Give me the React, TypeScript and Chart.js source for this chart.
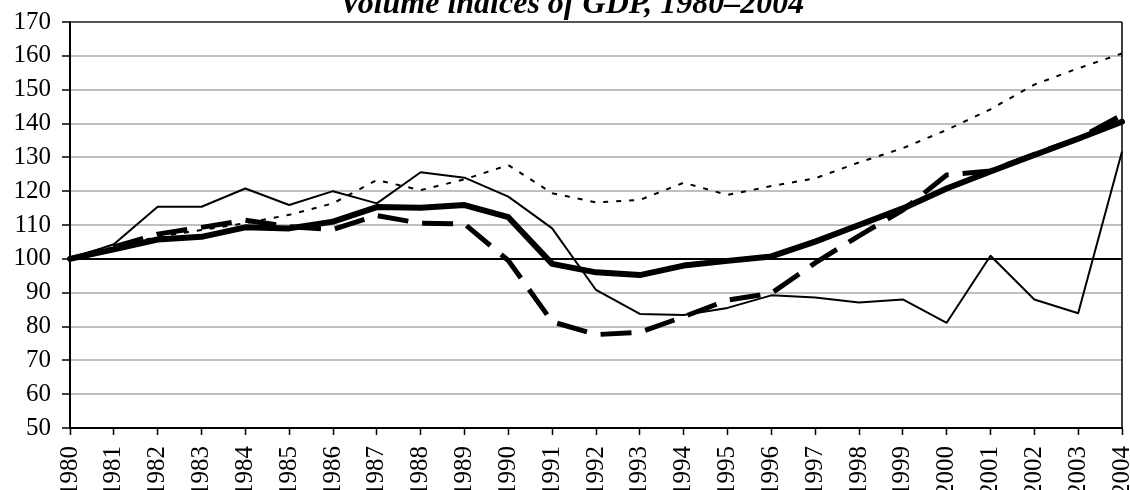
import React, { useEffect, useRef } from "react";
import { Chart, registerables } from "chart.js";

Chart.register(...registerables);

const TITLE = "Volume indices of GDP, 1980–2004";

const years = [
  "1980", "1981", "1982", "1983", "1984", "1985", "1986", "1987", "1988", "1989",
  "1990", "1991", "1992", "1993", "1994", "1995", "1996", "1997", "1998", "1999",
  "2000", "2001", "2002", "2003", "2004",
];

// thick solid line
const seriesThick = [
  100, 102.8, 105.7, 106.5, 109.3, 109.0, 111.0, 115.3, 115.1, 115.9,
  112.3, 98.5, 96.0, 95.2, 98.0, 99.4, 100.7, 105.1, 110.0, 114.9,
  120.8, 125.8, 130.7, 135.5, 140.5,
];

// thick dashed line
const seriesDashed = [
  100, 103.5, 107.3, 109.3, 111.4, 109.5, 108.7, 112.8, 110.5, 110.3,
  99.5, 81.4, 77.6, 78.3, 82.9, 87.8, 89.8, 98.8, 106.8, 114.4,
  124.8, 126.0, 130.9, 135.5, 142.5,
];

// thin dotted line
const seriesDotted = [
  100, 103.5, 106.5, 108.5, 110.5, 113.0, 116.4, 123.3, 120.3, 123.5,
  127.7, 119.4, 116.7, 117.4, 122.5, 118.9, 121.5, 123.8, 128.5, 132.7,
  138.1, 144.2, 151.5, 156.3, 160.7,
];

// thin solid line
const seriesThin = [
  100, 104.3, 115.4, 115.4, 120.8, 115.9, 120.0, 116.4, 125.6, 124.0,
  118.4, 109.0, 90.8, 83.7, 83.4, 85.5, 89.2, 88.6, 87.1, 88.0,
  81.1, 100.9, 88.0, 83.9, 131.7,
];

const yMin = 50;
const yMax = 170;
const yStep = 10;
const referenceValue = 100;

const FONT_FAMILY = '"Liberation Serif", "Times New Roman", serif';

export default function App() {
  const canvasRef = useRef<HTMLCanvasElement | null>(null);

  useEffect(() => {
    document.body.style.margin = "0";
    const canvas = canvasRef.current;
    if (!canvas) return;

    const titlePlugin = {
      id: "titleText",
      afterDraw(chart: any) {
        const ctx = chart.ctx;
        ctx.save();
        ctx.font = `bold italic 32px ${FONT_FAMILY}`;
        ctx.textAlign = "center";
        ctx.textBaseline = "alphabetic";
        ctx.fillStyle = "#000";
        ctx.fillText(TITLE, 572, 13);
        ctx.restore();
      },
    };

    const framePlugin = {
      id: "frame",
      afterDatasetsDraw(chart: any) {
        const { ctx, chartArea } = chart;
        ctx.save();
        ctx.strokeStyle = "#333";
        ctx.lineWidth = 1.5;
        ctx.beginPath();
        ctx.moveTo(chartArea.left, chartArea.top);
        ctx.lineTo(chartArea.right, chartArea.top);
        ctx.stroke();
        ctx.strokeStyle = "#000";
        ctx.beginPath();
        ctx.moveTo(chartArea.right, chartArea.top);
        ctx.lineTo(chartArea.right, chartArea.bottom);
        ctx.stroke();
        ctx.restore();
      },
    };

    const chart = new Chart(canvas, {
      type: "line",
      data: {
        labels: years,
        datasets: [
          {
            label: "Thin",
            data: seriesThin,
            borderColor: "#000",
            borderWidth: 2,
            pointRadius: 0,
            tension: 0,
            borderJoinStyle: "round",
          },
          {
            label: "Thick",
            data: seriesThick,
            borderColor: "#000",
            borderWidth: 6,
            pointRadius: 0,
            tension: 0,
            borderJoinStyle: "round",
            borderCapStyle: "round",
          },
          {
            label: "Dashed",
            data: seriesDashed,
            borderColor: "#000",
            borderWidth: 5,
            borderDash: [31, 14],
            pointRadius: 0,
            tension: 0,
            borderJoinStyle: "round",
          },
          {
            label: "Dotted",
            data: seriesDotted,
            borderColor: "#000",
            borderWidth: 2,
            borderDash: [5, 8],
            pointRadius: 0,
            tension: 0,
          },
        ],
      },
      options: {
        responsive: false,
        animation: false,
        layout: { padding: { top: 22, right: 8, left: 0, bottom: 0 } },
        plugins: {
          legend: { display: false },
          title: { display: false },
          tooltip: { enabled: false },
        },
        scales: {
          x: {
            type: "category",
            offset: false,
            grid: {
              display: true,
              drawOnChartArea: false,
              drawTicks: true,
              tickLength: 7,
              tickColor: "#000",
              tickWidth: 1.5,
            },
            border: { display: true, color: "#000", width: 2 },
            ticks: {
              autoSkip: false,
              maxRotation: 90,
              minRotation: 90,
              padding: 11,
              color: "#000",
              font: { family: FONT_FAMILY, size: 25 },
            },
            afterFit(scale: any) {
              scale.height = 62;
              scale.paddingLeft = 0;
              scale.paddingRight = 0;
            },
          },
          y: {
            min: yMin,
            max: yMax,
            grid: {
              color: (c: any) => (c.tick && c.tick.value === referenceValue ? "#000" : "#c0c0c0"),
              lineWidth: 2,
              drawTicks: true,
              tickLength: 8,
              tickColor: "#000",
              tickWidth: 1.5,
            },
            border: { display: true, color: "#000", width: 2 },
            ticks: {
              stepSize: yStep,
              autoSkip: false,
              padding: 11,
              color: "#000",
              font: { family: FONT_FAMILY, size: 25 },
            },
            afterFit(scale: any) {
              scale.width = 70;
              scale.paddingTop = 0;
              scale.paddingBottom = 0;
            },
          },
        },
      },
      plugins: [titlePlugin, framePlugin],
    });

    return () => {
      chart.destroy();
    };
  }, []);

  return (
    <div style={{ width: 1130, height: 490 }}>
      <canvas ref={canvasRef} width={1130} height={490} style={{ display: "block" }} />
    </div>
  );
}
